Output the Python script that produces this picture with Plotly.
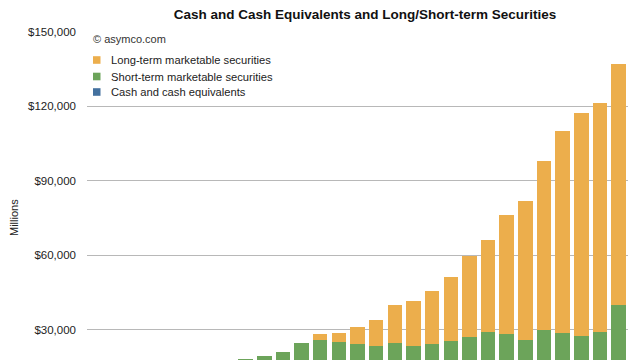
import plotly.graph_objects as go

# ---- data (USD millions) ----
quarters = ["Dec 05", "Mar 06", "Jun 06", "Sep 06", "Dec 06", "Mar 07", "Jun 07", "Sep 07",
            "Dec 07", "Mar 08", "Jun 08", "Sep 08", "Dec 08", "Mar 09", "Jun 09", "Sep 09",
            "Dec 09", "Mar 10", "Jun 10", "Sep 10", "Dec 10", "Mar 11", "Jun 11", "Sep 11",
            "Dec 11", "Mar 12", "Jun 12", "Sep 12", "Dec 12"]
cash_equivalents = [3500, 3900, 4100, 6392, 7100, 7100, 7100, 9352,
                    9800, 9700, 9400, 11875, 7236, 6000, 5600, 5263,
                    7600, 9700, 9300, 11261, 15500, 12900, 12100, 9815,
                    10300, 10200, 10100, 10746, 11400]
short_term = [5200, 4700, 4700, 3718, 4800, 5500, 6500, 6034,
              8650, 9840, 11630, 12775, 18614, 19050, 18650, 18177,
              17050, 13740, 14950, 14189, 11680, 16300, 16290, 16045,
              19700, 18590, 17610, 18454, 28540]
long_term = [0, 0, 0, 0, 0, 0, 0, 0,
             0, 0, 0, 0, 2480, 3740, 6950, 10700,
             15290, 18230, 21440, 25750, 32710, 36890, 48000, 55920,
             67850, 81380, 89590, 92240, 97190]
series_names = ["Cash and cash equivalents", "Short-term marketable securities",
                "Long-term marketable securities"]
series_colors = ["#44719f", "#6ca45a", "#ecae4c"]
y_ticks = [30000, 60000, 90000, 120000, 150000]
y_tick_labels = ["$30,000", "$60,000", "$90,000", "$120,000", "$150,000"]

# page has an 8px body margin: work in window pixels, convert to figure pixels
OFF = 8
W, H = 640 - OFF, 360 - OFF
PL, PR, PT, PB = 87, 628, 31, 360          # plot area in window pixels
ML, MR, MT, MB = PL - OFF, 640 - PR, PT - OFF, 0
PW, PH = PR - PL, PB - PT

def px_x(x):
    return (x - PL) / PW

def px_y(y):
    return (PB - y) / PH

fig = go.Figure()
for name, vals, col in zip(series_names, [cash_equivalents, short_term, long_term], series_colors):
    fig.add_trace(go.Bar(x=quarters, y=vals, name=name, marker_color=col,
                         marker_line_width=0, showlegend=False))

FONT = "Liberation Sans, Arial, Helvetica, sans-serif"
annotations = [
    dict(text="Millions", textangle=-90, x=px_x(14), y=px_y(218), xref="paper", yref="paper",
         showarrow=False, font=dict(size=11, color="#222"), xanchor="center", yanchor="middle"),
    dict(text="© asymco.com", x=px_x(91), y=px_y(39), xref="paper", yref="paper",
         showarrow=False, font=dict(size=11, color="#333"), xanchor="left", yanchor="middle"),
]
shapes = []
legend_rows = [60, 76.5, 92]
for (name, col), yy in zip(list(zip(series_names, series_colors))[::-1], legend_rows):
    annotations.append(dict(text=name, x=px_x(109), y=px_y(yy), xref="paper", yref="paper",
                            showarrow=False, font=dict(size=11.2, color="#222"),
                            xanchor="left", yanchor="middle"))
    shapes.append(dict(type="rect", xref="paper", yref="paper",
                       x0=px_x(93), x1=px_x(100.5), y0=px_y(yy + 3.8), y1=px_y(yy - 3.8),
                       fillcolor=col, line_width=0))

SCALE = 402.3                      # dollars per pixel
Y1 = 150000 + 0.7 * SCALE
Y0 = Y1 - PH * SCALE

fig.update_layout(
    width=W, height=H,
    margin=dict(l=ML, r=MR, t=MT, b=MB, autoexpand=False),
    paper_bgcolor="white", plot_bgcolor="white",
    barmode="stack", bargap=0.22,
    font=dict(family=FONT, size=11, color="#222"),
    title=dict(text="<b>Cash and Cash Equivalents and Long/Short-term Securities</b>",
               x=(365 - OFF) / W, xanchor="center", y=1 - (14 - OFF) / H, yanchor="middle",
               font=dict(size=13.5, color="#111")),
    xaxis=dict(showticklabels=False, showgrid=False, showline=False, ticks="",
               automargin=False),
    yaxis=dict(range=[Y0, Y1], tickvals=y_ticks, ticktext=y_tick_labels,
               showgrid=True, gridcolor="#b8b8b8", gridwidth=1.2, zeroline=False,
               showline=False, ticks="", ticklabelstandoff=10, automargin=False,
               tickfont=dict(size=11.5, color="#222")),
    annotations=annotations, shapes=shapes, showlegend=False,
)

fig.write_html("out.html")
